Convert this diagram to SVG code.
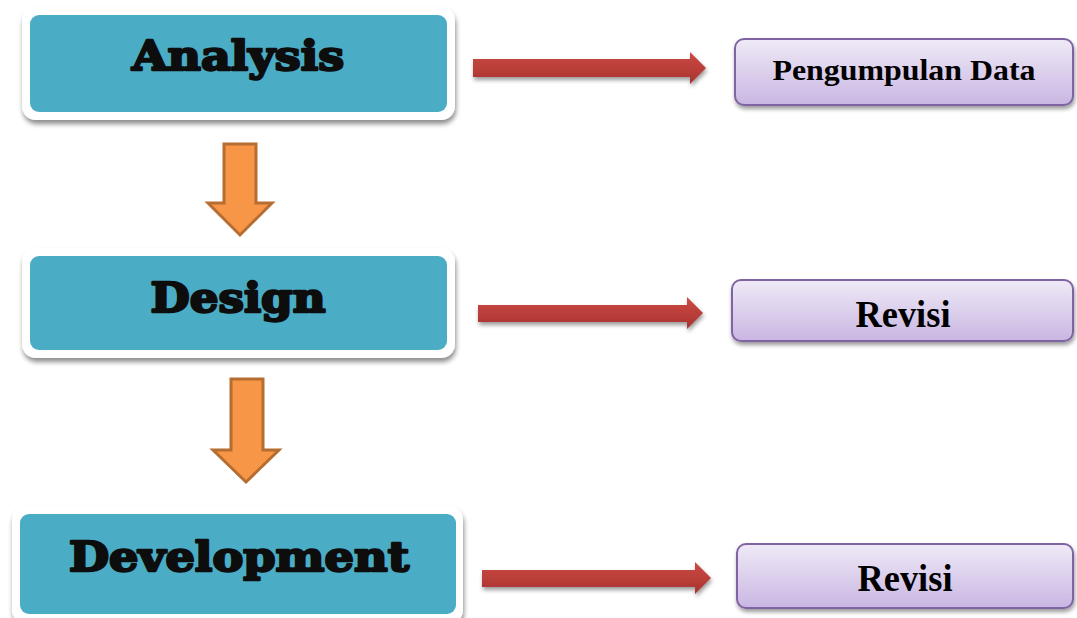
<svg xmlns="http://www.w3.org/2000/svg" width="1077" height="618" viewBox="0 0 1077 618">
<style>
.frame{fill:#ffffff;}
.teal{fill:#4bacc6;}
.h{font-family:"DejaVu Serif",serif;font-weight:bold;fill:#0d0d0d;stroke:#0d0d0d;stroke-width:2.4;stroke-linejoin:round;text-anchor:middle;}
.pbox{fill:url(#pg);stroke:#8064a2;stroke-width:2;}
.pt{font-family:"Liberation Serif","Times New Roman",serif;font-weight:bold;fill:#000;text-anchor:middle;}
.oarrow{fill:#f79646;stroke:#b66d31;stroke-width:3;stroke-linejoin:miter;}
.rarrow{fill:url(#rg);}
</style>
<defs>
<linearGradient id="pg" x1="0" y1="0" x2="0" y2="1">
<stop offset="0" stop-color="#efeaf7"/>
<stop offset="1" stop-color="#c9b6e2"/>
</linearGradient>
<linearGradient id="rg" x1="0" y1="0" x2="0" y2="1">
<stop offset="0" stop-color="#cd4a45"/>
<stop offset="1" stop-color="#a8332f"/>
</linearGradient>
<filter id="sh" x="-10%" y="-20%" width="120%" height="150%">
<feGaussianBlur in="SourceAlpha" stdDeviation="2.5"/>
<feOffset dx="1" dy="4" result="b"/>
<feComponentTransfer><feFuncA type="linear" slope="0.45"/></feComponentTransfer>
<feMerge><feMergeNode/><feMergeNode in="SourceGraphic"/></feMerge>
</filter>
<filter id="sh2" x="-10%" y="-20%" width="120%" height="160%">
<feGaussianBlur in="SourceAlpha" stdDeviation="2"/>
<feOffset dx="1" dy="3" result="b"/>
<feComponentTransfer><feFuncA type="linear" slope="0.4"/></feComponentTransfer>
<feMerge><feMergeNode/><feMergeNode in="SourceGraphic"/></feMerge>
</filter>
</defs>

<g id="analysis">
<rect class="frame" x="22" y="7" width="433" height="113" rx="14" filter="url(#sh)"/>
<rect class="teal" x="30" y="15" width="417" height="97" rx="9"/>
<text class="h" x="238" y="70" font-size="41" textLength="212" lengthAdjust="spacingAndGlyphs">Analysis</text>
</g>

<g id="design">
<rect class="frame" x="22" y="248" width="433" height="110" rx="14" filter="url(#sh)"/>
<rect class="teal" x="30" y="256" width="417" height="94" rx="9"/>
<text class="h" x="238" y="312" font-size="41" textLength="175" lengthAdjust="spacingAndGlyphs">Design</text>
</g>

<g id="development">
<rect class="frame" x="12" y="506" width="451" height="118" rx="14" filter="url(#sh)"/>
<rect class="teal" x="20" y="514" width="436" height="100" rx="9"/>
<text class="h" x="239" y="571" font-size="41" textLength="340" lengthAdjust="spacingAndGlyphs">Development</text>
</g>

<g id="pengumpulan">
<rect class="pbox" x="735" y="39" width="338" height="66" rx="9" filter="url(#sh2)"/>
<text class="pt" x="904" y="80" font-size="30" textLength="263" lengthAdjust="spacingAndGlyphs">Pengumpulan Data</text>
</g>

<g id="revisi1">
<rect class="pbox" x="732" y="280" width="341" height="61" rx="9" filter="url(#sh2)"/>
<text class="pt" x="903" y="327" font-size="38" textLength="95" lengthAdjust="spacingAndGlyphs">Revisi</text>
</g>

<g id="revisi2">
<rect class="pbox" x="737" y="544" width="336" height="64" rx="9" filter="url(#sh2)"/>
<text class="pt" x="905" y="591" font-size="38" textLength="95" lengthAdjust="spacingAndGlyphs">Revisi</text>
</g>

<g id="connectors">
<polygon class="oarrow" points="224,144 256,144 256,203 272,203 240,235 208,203 224,203"/>
<polygon class="oarrow" points="231,379 263,379 263,450 279,450 246,482 213,450 231,450"/>
<polygon class="rarrow" filter="url(#sh2)" points="473,59 690,59 690,52 706,68 690,84 690,77 473,77"/>
<polygon class="rarrow" filter="url(#sh2)" points="478,305 687,305 687,297 703,313 687,329 687,322 478,322"/>
<polygon class="rarrow" filter="url(#sh2)" points="482,570 695,570 695,562 711,578 695,594 695,587 482,587"/>
</g>
</svg>
